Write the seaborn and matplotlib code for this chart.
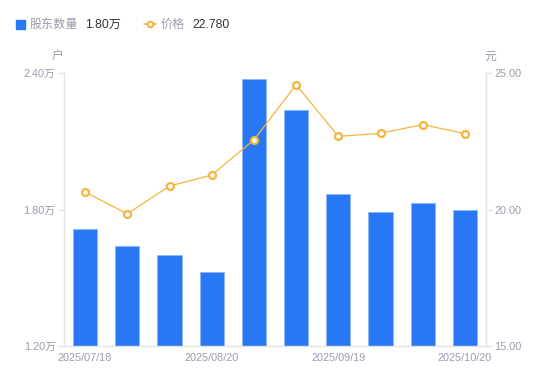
import numpy as np
import pandas as pd
import seaborn as sns
import matplotlib.pyplot as plt
from matplotlib.lines import Line2D

sns.set_style("white")
plt.rcParams['font.family'] = ['Liberation Sans', 'Noto Sans CJK SC', 'DejaVu Sans']

# data
dates = ['2025/07/18', '2025/07/31', '2025/08/10', '2025/08/20', '2025/08/31',
         '2025/09/10', '2025/09/19', '2025/09/30', '2025/10/10', '2025/10/20']
holders = [1.714, 1.640, 1.600, 1.525, 2.374, 2.237, 1.868, 1.789, 1.830, 1.800]  # 万户
price = [20.64, 19.84, 20.86, 21.26, 22.55, 24.57, 22.68, 22.79, 23.11, 22.78]
shown_ticks = [0, 3, 6, 9]

blue = '#2878f5'
orange = '#f5b43c'
grey = '#9a9cb0'
axis_col = '#e2e3e8'

df = pd.DataFrame({'date': dates, 'holders': holders, 'price': price,
                   'pos': range(len(dates))})

fig = plt.figure(figsize=(5.5, 3.81), dpi=100)
ax = fig.add_axes([64 / 550, 1 - 346 / 381, 422 / 550, 273 / 381])

sns.barplot(data=df, x='date', y='holders', color=blue, width=0.57,
            edgecolor='#8cb6fa', linewidth=0.6, saturation=1, ax=ax)
ax.set_xlim(-0.5, len(dates) - 0.5)
ax.set_ylim(1.2, 2.4)
ax.set_yticks([1.2, 1.8, 2.4])
ax.set_yticklabels([f'{v:.2f}万' for v in [1.2, 1.8, 2.4]])
ax.set_xticks(shown_ticks)
ax.set_xticklabels([dates[i] for i in shown_ticks])
ax.set_xlabel('')
ax.set_ylabel('')

ax2 = ax.twinx()
sns.lineplot(data=df, x='pos', y='price', color=orange, linewidth=0.9,
             marker='o', markersize=5, markerfacecolor='white',
             markeredgecolor=orange, markeredgewidth=1.6, ax=ax2, zorder=5)
ax2.set_ylim(15, 25)
ax2.set_yticks([15, 20, 25])
ax2.set_yticklabels([f'{v:.2f}' for v in [15, 20, 25]])
ax2.set_ylabel('')
ax2.set_xlabel('')
ax2.set_xlim(-0.5, len(dates) - 0.5)

for a in (ax, ax2):
    for s in a.spines.values():
        s.set_visible(False)
    a.grid(False)
ax.spines['left'].set_visible(True)
ax.spines['bottom'].set_visible(True)
ax2.spines['right'].set_visible(True)
for s in [ax.spines['left'], ax.spines['bottom'], ax2.spines['right']]:
    s.set_color(axis_col)
    s.set_linewidth(1)

ax.tick_params(axis='y', colors=axis_col, labelcolor=grey, labelsize=7.8,
               length=4, width=1, pad=2, left=True)
ax.tick_params(axis='x', labelcolor=grey, labelsize=7.8, length=0, pad=5)
ax2.tick_params(axis='y', colors=axis_col, labelcolor=grey, labelsize=7.8,
                length=4, width=1, pad=2, right=True)

# unit labels
fig.text(57 / 550, 1 - 57 / 381, '户', color=grey, fontsize=8.5, ha='center', va='center')
fig.text(490 / 550, 1 - 57 / 381, '元', color=grey, fontsize=8.5, ha='center', va='center')

# legend row
fig.patches.append(plt.Rectangle((16 / 550, 1 - 29 / 381), 9 / 550, 9 / 381,
                                 transform=fig.transFigure, color=blue))
fig.text(30 / 550, 1 - 24.5 / 381, '股东数量', color=grey, fontsize=8.7, va='center')
fig.text(85 / 550, 1 - 24.5 / 381, '1.80万', color='#333333', fontsize=8.7, va='center')
fig.lines.append(Line2D([144 / 550, 156 / 550], [1 - 24 / 381, 1 - 24 / 381],
                        transform=fig.transFigure, color=orange, lw=1.2))
fig.lines.append(Line2D([150 / 550], [1 - 24 / 381], transform=fig.transFigure,
                        marker='o', markersize=4, markerfacecolor='white',
                        markeredgecolor=orange, markeredgewidth=1.5, lw=0))
fig.text(161 / 550, 1 - 24.5 / 381, '价格', color=grey, fontsize=8.7, va='center')
fig.text(192 / 550, 1 - 24.5 / 381, '22.780', color='#333333', fontsize=8.7, va='center')

fig.savefig('out.png', dpi=100)
